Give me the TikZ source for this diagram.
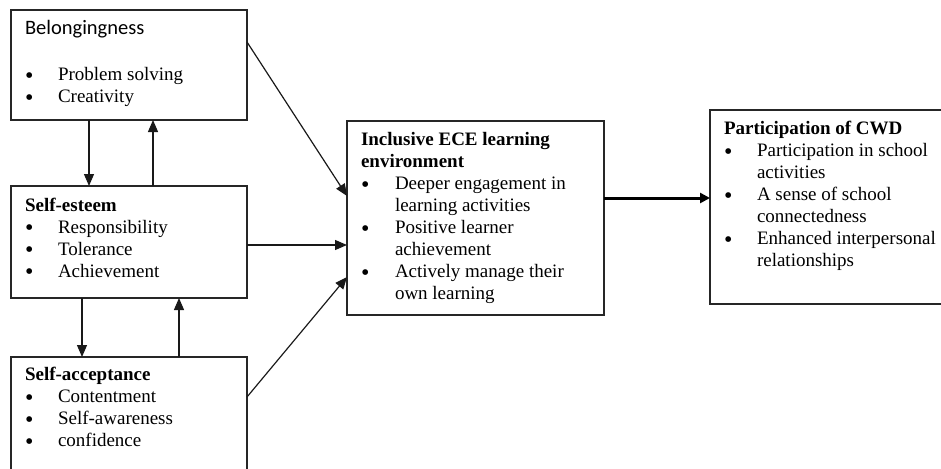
\documentclass[tikz,border=0pt]{standalone}
\usepackage{fontspec}
\setmainfont{Liberation Serif}
\newfontfamily\calibrifont{Carlito}
\usepackage{array}
\usetikzlibrary{arrows.meta, positioning}

\newcommand{\itm}{\smash{\raisebox{-2.5pt}{\fontsize{24}{22}\selectfont\textbullet}}}
\newcommand{\ttl}[1]{\multicolumn{2}{@{}l@{}}{\textbf{#1}}}

\begin{document}
\begin{tikzpicture}[x=1pt, y=-1pt,
  every node/.style={inner sep=0pt, outer sep=0pt},
  box/.style ={draw=black!85, line width=1.3pt, anchor=north west},
  txt/.style ={align=left, font=\fontsize{19}{22}\selectfont},
  arr/.style ={-{Triangle[length=12pt, width=10pt]}, line width=1.2pt, black!90},
  bigarr/.style={-{Triangle[length=10pt, width=10pt]}, line width=3pt, black},
]
\clip (0,0) rectangle (941,468);
\useasboundingbox (0,0) rectangle (941,468);

% Boxes
\node[box, minimum width=236, minimum height=110] (bel) at (11,10)  {};
\node[box, minimum width=236, minimum height=112] (se)  at (11,186) {};
\node[box, minimum width=236, minimum height=130] (sa)  at (11,357) {};
\node[box, minimum width=257, minimum height=194] (ece) at (347,121) {};
\node[box, minimum width=250, minimum height=194] (cwd) at (710,110) {};

% Texts
\node[txt, below right=9.5pt and 14pt of bel.north west] (beltxt) {%
  \begin{tabular}{@{}p{33pt}@{}l@{}}
  \multicolumn{2}{@{}l@{}}{\calibrifont\fontsize{20.5}{22}\selectfont Belongingness}\\
  \\[2pt]
  \itm & Problem solving\\
  \itm & Creativity
  \end{tabular}};
\node[txt, below right=10pt and 14pt of se.north west] (setxt) {%
  \begin{tabular}{@{}p{33pt}@{}l@{}}
  \ttl{Self-esteem}\\
  \itm & Responsibility\\
  \itm & Tolerance\\
  \itm & Achievement
  \end{tabular}};
\node[txt, below right=8.5pt and 14pt of sa.north west] (satxt) {%
  \begin{tabular}{@{}p{33pt}@{}l@{}}
  \ttl{Self-acceptance}\\
  \itm & Contentment\\
  \itm & Self-awareness\\
  \itm & confidence
  \end{tabular}};
\node[txt, below right=9.5pt and 14pt of ece.north west] (ecetxt) {%
  \begin{tabular}{@{}p{34pt}@{}l@{}}
  \ttl{Inclusive ECE learning}\\
  \ttl{environment}\\
  \itm & Deeper engagement in\\
       & learning activities\\
  \itm & Positive learner\\
       & achievement\\
  \itm & Actively manage their\\
       & own learning
  \end{tabular}};
\node[txt, below right=9.5pt and 14pt of cwd.north west] (cwdtxt) {%
  \begin{tabular}{@{}p{33pt}@{}l@{}}
  \ttl{Participation of CWD}\\
  \itm & Participation in school\\
       & activities\\
  \itm & A sense of school\\
       & connectedness\\
  \itm & Enhanced interpersonal\\
       & relationships
  \end{tabular}};

% Links between the left boxes
\draw[arr] ([xshift=78pt]bel.south west)  -- ([xshift=78pt]se.north west);
\draw[arr] ([xshift=142pt]se.north west)  -- ([xshift=142pt]bel.south west);
\draw[arr] ([xshift=71pt]se.south west)   -- ([xshift=71pt]sa.north west);
\draw[arr] ([xshift=168pt]sa.north west)  -- ([xshift=168pt]se.south west);

% Into the learning environment
\draw[arr] ([yshift=-32pt]bel.north east) -- ([yshift=22pt]ece.west);
\draw[arr] ([yshift=-3pt]se.east)         -- ([yshift=-27pt]ece.west);
\draw[arr] ([yshift=-40pt]sa.north east)  -- ([yshift=-59pt]ece.west);

% Outcome
\draw[bigarr] ([yshift=20pt]ece.east) -- ([yshift=9pt]cwd.west);

\end{tikzpicture}
\end{document}
